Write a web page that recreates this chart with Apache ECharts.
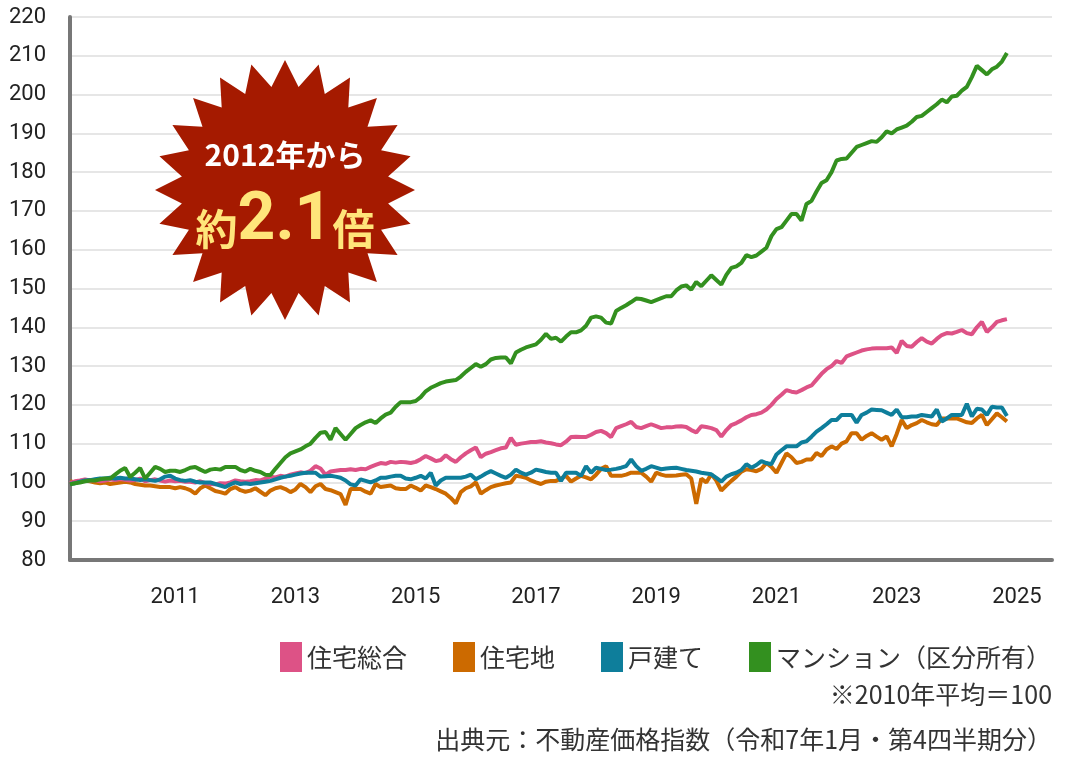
<!DOCTYPE html>
<html>
<head>
<meta charset="utf-8">
<script src="https://cdn.jsdelivr.net/npm/echarts@6/dist/echarts.min.js"></script>
<style>
  html, body { margin: 0; padding: 0; background: #fff; }
  #container { width: 1074px; height: 760px; }
</style>
</head>
<body>
<div id="container"></div>
<script>
// months from 2009-04, axis runs a bit past the last data point
var months = [];
for (var k = 0; k < 197; k++) {
  var y = 2009 + Math.floor((3 + k) / 12);
  var m = (3 + k) % 12 + 1;
  months.push(y + '-' + (m < 10 ? '0' + m : m));
}
var yTicks = [80, 220, 10];

// 住宅総合
var sogo = [
  99.8,100.3,100.5,100.8,100.5,100.6,100.3,100.5,100.8,100.6,100.9,100.7,
  100.5,100.6,101,100.3,100.6,100.8,100.5,100.2,100.5,100.3,100.4,100.2,
  100.2,100,100.3,99.8,99.6,99.5,99.8,99.7,100,100.5,100.3,100.2,
  100.3,100.6,100.5,101,101.5,101.3,101.7,101.5,102,102.3,102.6,102.4,
  103,104.2,103.6,102,102.8,103,103.2,103.2,103.4,103.2,103.5,103.4,
  104,104.5,105,104.8,105.3,105.1,105.3,105.2,105,105.3,106,106.8,
  106.2,105.5,105.8,107,106,105.3,106.5,107.5,108.3,109,106.5,107.4,
  107.8,108.3,108.8,109,111.5,109.7,110,110.2,110.4,110.4,110.6,110.3,
  110.1,109.8,109.6,110.5,111.7,111.8,111.7,111.7,112.3,113,113.3,112.7,
  111.7,114,114.5,115,115.6,114.3,114,114.5,115,114.5,114,114.2,
  114.2,114.4,114.5,114.3,113.5,112.9,114.5,114.3,114,113.5,111.8,113.5,
  114.8,115.3,116,116.8,117.4,117.6,118,118.8,120,121.5,122.6,123.8,
  123.4,123.2,123.8,124.5,125,126.5,128,129.2,130,131.3,130.8,132.5,
  133,133.5,134,134.3,134.5,134.6,134.6,134.6,134.8,133.4,136.5,135.2,
  135,136.2,137.2,136.3,135.8,137,138,138.5,138.4,138.8,139.3,138.5,
  138.2,140,141.4,138.8,140,141.4,141.8,142.1
];
// 住宅地
var takuchi = [
  100.3,100,100.2,100.5,100.3,100,99.8,100,99.6,99.8,100,100.2,
  100,99.6,99.4,99.2,99.2,99,98.8,98.8,98.8,98.5,98.8,98.5,
  98,97.1,98.5,99.2,98.5,97.8,97.5,97.1,98.3,98.8,98,97.6,
  97.9,98.5,97.6,96.7,97.9,98.5,98.8,98.3,97.5,98.2,99.6,98.8,
  97.5,99,99.6,98.3,98,97.5,97,94.2,98.3,98.3,98.3,97.6,
  97.1,99.6,98.8,99,99.2,98.5,98.3,98.3,99.2,98.6,97.9,99.2,
  98.8,98.3,97.7,97.1,96,94.6,97.5,98.5,99,100,97.1,98,
  98.8,99.2,99.5,99.8,100,101.7,101.5,101.2,100.5,100,99.6,100.2,
  100.4,100.4,101,101.7,100.2,101,101.7,101.3,100.8,102,103.5,104.2,
  101.7,101.7,101.7,102,102.5,102.5,102.5,101.5,100.2,102.5,102,101.7,
  101.7,101.8,102,102.1,101,94.5,101,100,102.1,100.5,97.9,99.2,
  100.4,101.5,102.8,103.4,103.2,102.9,103.5,105,104,102.5,105,107.5,
  106.5,105,105.3,105.9,105.9,107.6,106.8,108.5,109.3,108.6,110,110.6,
  112.7,112.7,111,112,112.7,111.8,111,111.9,109.3,112.5,116.1,114,
  114.8,115.3,116.1,115.5,115,114.8,116.5,116.5,116.5,116.5,116,115.5,
  115.3,116.5,117.4,114.8,116.3,117.8,116.8,115.7
];
// 戸建て
var kodate = [
  99.6,99.8,100.2,100.5,100.6,100.8,101,101,101.2,101,101.2,101,
  101,100.8,100.6,100.8,100.6,100.4,100.8,101.5,101.7,101,100.6,100.4,
  100.6,100.2,100,100,100,99.6,99.2,98.8,99.5,100,99.6,99.8,
  99.6,99.8,100,100.2,100.4,100.8,101.2,101.5,101.7,102,102.3,102.5,
  102.5,102.5,101.5,101.6,101.7,101.5,101.2,100.5,99.5,99.2,100.8,100.4,
  100,100.5,101.2,101.2,101.5,101.7,101.7,101,100.8,101.2,101.7,101,
  102.5,99.2,100.5,101.2,101.2,101.2,101.2,101.5,102,100.8,101.5,102.3,
  102.9,102.3,101.7,101.2,102,103.3,102.5,102,102.5,103.3,103,102.7,
  102.5,102.5,100.4,102.5,102.5,102.5,101.7,104.2,102.5,103.8,103.5,103.2,
  103.3,103.5,103.8,104.2,105.9,104.2,103,103.5,104.2,103.8,103.4,103.6,
  103.7,103.8,103.5,103.2,103,102.8,102.5,102.3,102.1,101.2,100.2,101.5,
  102.1,102.5,103.2,104.7,103.8,104.5,105.5,105,104.7,107.2,108.3,109.3,
  109.3,109.3,110.3,110.6,111.8,113.1,114,115,116.1,116.1,117.4,117.4,
  117.4,115.4,117.4,118,118.8,118.7,118.6,118,117.4,118.8,116.8,116.8,
  117,117,117.4,117.2,117,118.8,115.7,116.5,117.4,117.4,117.4,120.3,
  117,119,118.8,117.4,119.5,119.3,119.3,117.1
];
// マンション（区分所有）
var mansion = [
  99.5,99.8,100,100.3,100.5,100.5,100.8,101,101,102,103,103.7,
  101.4,102.5,103.7,101,102.5,104,103.5,102.7,103,103,102.7,103.2,
  103.8,104,103.3,102.7,103.3,103.5,103.3,104,104,104,103.2,102.8,
  103.5,103,102.7,102,101.9,103.5,105,106.5,107.5,108,108.5,109.3,
  110,111.5,112.8,113,111,114,112.5,111,112.5,114,114.8,115.5,
  116,115.3,116.5,117.5,118,119.5,120.7,120.7,120.7,121,122,123.5,
  124.4,125,125.6,126,126.2,126.4,127.3,128.5,129.5,130.5,129.8,130.5,
  131.7,132.1,132.2,132.2,130.7,133.5,134.2,134.8,135.2,135.6,136.8,138.3,
  137,137.3,136.3,137.6,138.7,138.7,139.2,140.4,142.5,142.8,142.5,141.2,
  141,144.2,145,145.7,146.5,147.4,147.3,146.9,146.5,147,147.5,148,
  148,149.5,150.5,150.8,149.7,151.7,150.6,152,153.4,152.2,151,153.5,
  155.3,155.7,156.6,158.6,158.1,158.5,159.5,160.5,163.5,165.3,165.8,167.5,
  169.2,169.2,167.5,171.8,172.6,175,177.2,177.9,180,183,183.4,183.5,
  185,186.5,187,187.5,188,187.8,189,190.5,190,191,191.5,192,
  193,194.2,194.5,195.5,196.5,197.5,198.7,198,199.5,199.7,201,202,
  204.5,207.4,206.3,205.2,206.5,207.2,208.5,210.7
];
var names = ['住宅総合', '住宅地', '戸建て', 'マンション（区分所有）'];
var colors = ['#DD5286', '#CC6A00', '#0E7E9B', '#33901F'];

// starburst outline (decoration)
var burst = [];
var cx = 285, cy = 190, spikes = 24;
for (var s = 0; s < spikes * 2; s++) {
  var r = s % 2 === 0 ? 130 : 104;
  var a = Math.PI * s / spikes - Math.PI / 2;
  burst.push([cx + r * Math.cos(a), cy + r * Math.sin(a)]);
}

var dom = document.getElementById('container');
var myChart = echarts.init(dom, null, { renderer: 'canvas' });
var font = '"Noto Sans CJK JP", "Noto Sans", sans-serif';

var option = {
  animation: false,
  color: colors,
  textStyle: { fontFamily: font },
  grid: { left: 70, right: 22, top: 17, bottom: 200 },
  legend: {
    data: names,
    right: 18,
    top: 637,
    itemWidth: 22,
    itemHeight: 30,
    itemGap: 46,
    icon: 'rect',
    textStyle: { fontSize: 25, color: '#333', fontFamily: font }
  },
  xAxis: {
    type: 'category',
    data: months,
    boundaryGap: false,
    axisLine: { lineStyle: { color: '#777', width: 4 } },
    axisTick: { show: false },
    splitLine: { show: false },
    axisLabel: {
      interval: function (i, v) {
        var y = +v.slice(0, 4);
        return v.slice(5) === '01' && y % 2 === 1;
      },
      formatter: function (v) { return v.slice(0, 4); },
      fontSize: 22, color: '#222', margin: 26, fontFamily: 'Roboto'
    }
  },
  yAxis: {
    type: 'value',
    min: yTicks[0], max: yTicks[1], interval: yTicks[2],
    axisLine: { show: true, lineStyle: { color: '#777', width: 4 } },
    axisTick: { show: false },
    splitLine: { lineStyle: { color: '#e6e6e6', width: 2 } },
    axisLabel: { fontSize: 22, color: '#222', margin: 24, fontFamily: 'Roboto' }
  },
  series: [sogo, takuchi, kodate, mansion].map(function (d, i) {
    return {
      name: names[i], type: 'line', data: d, showSymbol: false,
      lineStyle: { width: 4, color: colors[i] }, z: i === 1 ? 2 : 3
    };
  }),
  graphic: [
    { type: 'polygon', shape: { points: burst }, style: { fill: '#A51A00' }, z: 100 },
    { type: 'text', x: 285, y: 155, z: 101,
      style: { text: '2012年から', fill: '#fff', fontSize: 30, fontWeight: 'bold',
               fontFamily: font, align: 'center', verticalAlign: 'middle' } },
    { type: 'text', x: 285, y: 222, z: 101,
      style: { text: '{a|約}{b|2.1}{a|倍}', align: 'center', verticalAlign: 'middle',
               rich: {
                 a: { fill: '#FFE57A', fontSize: 42, fontWeight: 'bold', fontFamily: font, padding: [14, 0, 0, 0] },
                 b: { fill: '#FFE57A', fontSize: 66, fontWeight: 'bold', fontFamily: 'Roboto' }
               } } },
    { type: 'text', right: 22, top: 682,
      style: { text: '※2010年平均＝100', fill: '#333', fontSize: 25, fontFamily: font } },
    { type: 'text', right: 22, top: 727,
      style: { text: '出典元：不動産価格指数（令和7年1月・第4四半期分）', fill: '#333', fontSize: 25, fontFamily: font } }
  ]
};

myChart.setOption(option);
window.addEventListener('resize', myChart.resize);
</script>
</body>
</html>
